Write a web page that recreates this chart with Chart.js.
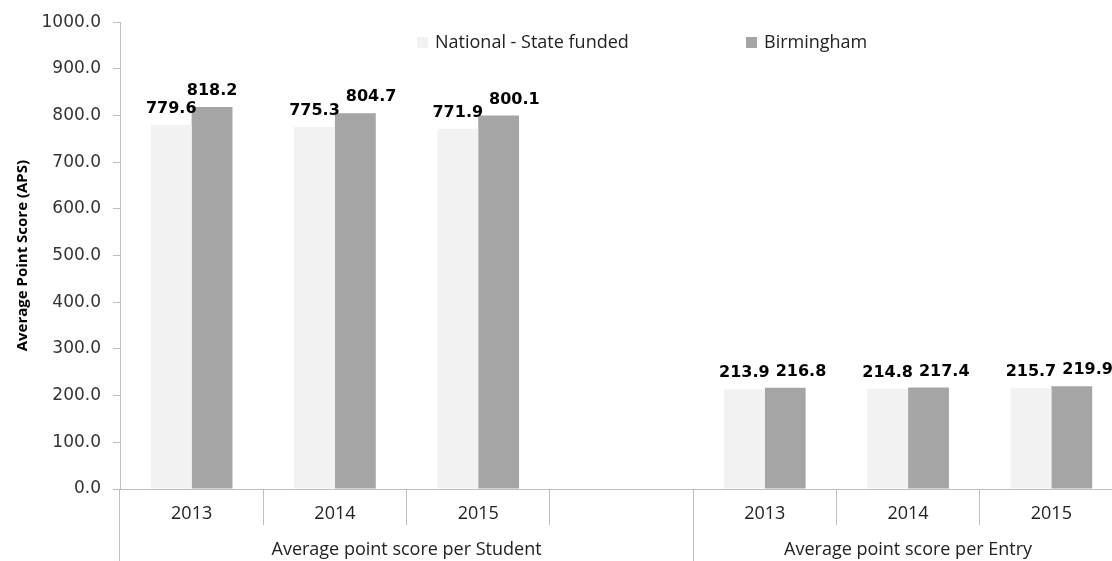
<!DOCTYPE html>
<html>
<head>
<meta charset="utf-8">
<title>Average Point Score</title>
<script src="https://cdn.jsdelivr.net/npm/chart.js@4"></script>
<style>
  html, body { margin: 0; padding: 0; background: #fff; overflow: hidden; }
  #wrap { width: 1112px; height: 561px; overflow: hidden; }
</style>
</head>
<body>
<div id="wrap"><canvas id="apsChart" width="1123" height="561"></canvas></div>
<script>
const categories = ["2013", "2014", "2015", "", "2013", "2014", "2015"];
const groups = ["Average point score per Student", "Average point score per Entry"];
const groupStart = [0, 4];
const groupEnd = [3, 6];
const seriesNames = ["National - State funded", "Birmingham"];
const nationalValues = [779.6, 775.3, 771.9, null, 213.9, 214.8, 215.7];
const birminghamValues = [818.2, 804.7, 800.1, null, 216.8, 217.4, 219.9];
const yTicks = [0, 100, 200, 300, 400, 500, 600, 700, 800, 900, 1000];

const lightGrey = "#f2f2f2";
const darkGrey = "#a5a5a5";
const lineGrey = "#bfbfbf";

// value labels above every bar; the second label is nudged right when the two collide
const valueLabels = {
    id: "valueLabels",
    afterDatasetsDraw(chart) {
        const ctx = chart.ctx;
        ctx.save();
        ctx.font = "bold 16px 'DejaVu Sans'";
        ctx.fillStyle = "#000";
        ctx.textAlign = "left";
        ctx.textBaseline = "alphabetic";
        const metaA = chart.getDatasetMeta(0).data;
        const metaB = chart.getDatasetMeta(1).data;
        const dsA = chart.data.datasets[0].data;
        const dsB = chart.data.datasets[1].data;
        for (let j = 0; j < dsA.length; j++) {
            if (dsA[j] == null) continue;
            const ta = dsA[j].toFixed(1), tb = dsB[j].toFixed(1);
            const wa = ctx.measureText(ta).width, wb = ctx.measureText(tb).width;
            const a = metaA[j], b = metaB[j];
            const xa = a.x - wa / 2;
            let xb = b.x - wb / 2;
            if (Math.abs(a.y - b.y) < 16 && xb < xa + wa + 6) xb = xa + wa + 6;
            ctx.fillText(ta, xa, a.y - 12);
            ctx.fillText(tb, xb, b.y - 12);
        }
        ctx.restore();
    }
};

// legend inside the plot, and the second level of the category axis
const extras = {
    id: "extras",
    afterDraw(chart) {
        const ctx = chart.ctx;
        const area = chart.chartArea;
        const x = chart.scales.x;
        const h = chart.height;
        ctx.save();

        // legend
        const legendX = [417, 746];
        ctx.font = "18px 'Open Sans'";
        ctx.textBaseline = "middle";
        ctx.textAlign = "left";
        chart.data.datasets.forEach((ds, i) => {
            ctx.fillStyle = ds.backgroundColor;
            ctx.fillRect(legendX[i], 37, 11, 11);
            ctx.fillStyle = "#222";
            ctx.fillText(ds.label, legendX[i] + 18, 43);
        });

        // long separators at the start of each group, and group names
        ctx.strokeStyle = lineGrey;
        ctx.lineWidth = 1;
        const half = (x.getPixelForValue(1) - x.getPixelForValue(0)) / 2;
        groupStart.forEach(s => {
            const px = Math.round(x.getPixelForValue(s) - half - 0.5) + 0.5;
            ctx.beginPath();
            ctx.moveTo(px, area.bottom);
            ctx.lineTo(px, h);
            ctx.stroke();
        });
        ctx.fillStyle = "#222";
        ctx.textAlign = "center";
        groups.forEach((g, i) => {
            const left = x.getPixelForValue(groupStart[i]) - half;
            const right = x.getPixelForValue(groupEnd[i]) + half;
            ctx.fillText(g, (left + right) / 2, 550);
        });
        ctx.restore();
    }
};

new Chart(document.getElementById("apsChart"), {
    type: "bar",
    data: {
        labels: categories,
        datasets: [
            { label: seriesNames[0], data: nationalValues, backgroundColor: lightGrey },
            { label: seriesNames[1], data: birminghamValues, backgroundColor: darkGrey }
        ]
    },
    options: {
        responsive: false,
        animation: false,
        devicePixelRatio: 1,
        layout: { padding: { top: 20, right: 0, left: 0, bottom: 0 } },
        datasets: { bar: { categoryPercentage: 0.57, barPercentage: 1.0 } },
        plugins: {
            legend: { display: false },
            tooltip: { enabled: false }
        },
        scales: {
            x: {
                grid: {
                    display: true,
                    drawOnChartArea: false,
                    offset: true,
                    tickLength: 36,
                    color: c => groupStart.includes(c.index) ? "rgba(0,0,0,0)" : lineGrey
                },
                border: { color: lineGrey },
                ticks: { padding: -22, color: "#222", font: { family: "Open Sans", size: 18 }, maxRotation: 0, autoSkip: false },
                afterFit(scale) { scale.height = 72; }
            },
            y: {
                min: 0,
                max: 1000,
                afterBuildTicks(scale) { scale.ticks = yTicks.map(v => ({ value: v })); },
                grid: { display: true, drawOnChartArea: false, tickLength: 7, color: lineGrey },
                border: { color: lineGrey },
                ticks: {
                    padding: 12,
                    color: "#333",
                    font: { family: "DejaVu Sans", size: 17 },
                    callback: v => v.toFixed(1)
                },
                title: {
                    display: true,
                    text: "Average Point Score (APS)",
                    color: "#000",
                    font: { family: "Open Sans", size: 15, weight: "bold" },
                    padding: { top: 14, bottom: 0 }
                },
                afterFit(scale) { scale.width = 120; }
            }
        }
    },
    plugins: [valueLabels, extras]
});
</script>
</body>
</html>
